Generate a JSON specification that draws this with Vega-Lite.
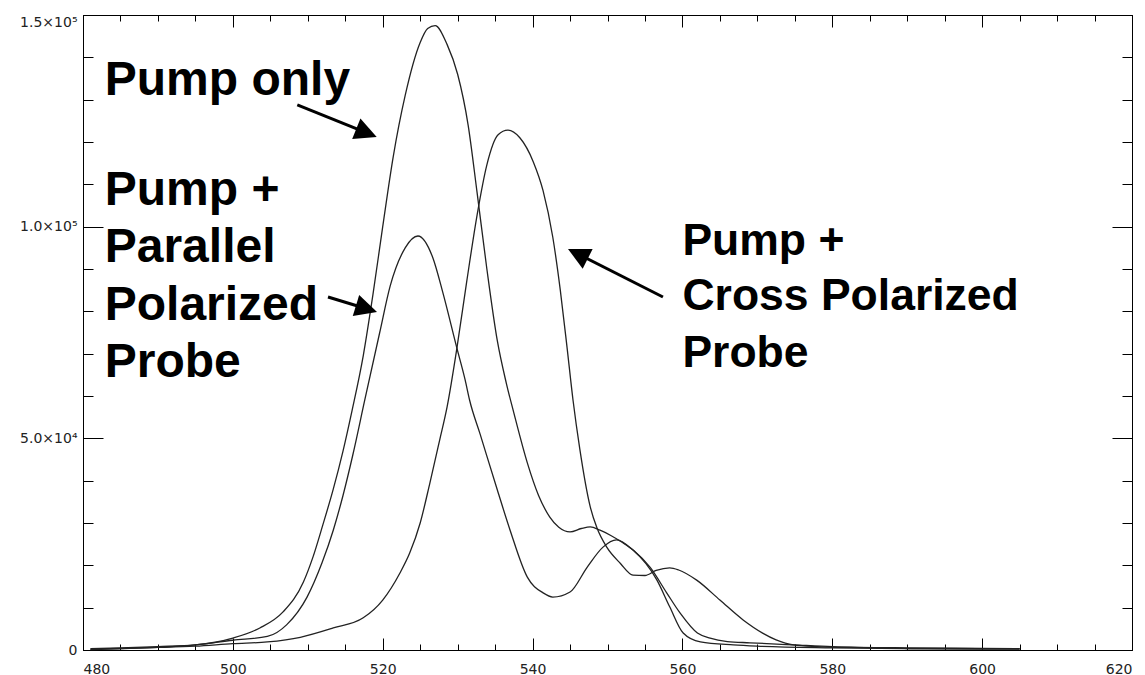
{
  "$schema": "https://vega.github.io/schema/vega-lite/v6.json",
  "autosize": {"type": "none"},
  "padding": {"left": 83, "top": 15, "right": 13, "bottom": 25},
  "width": 1049,
  "height": 635,
  "background": "white",
  "config": {
    "view": {"stroke": "#000", "strokeWidth": 1},
    "axis": {"grid": false, "domainColor": "#000", "domainWidth": 1, "tickColor": "#000", "tickWidth": 1, "labelFont": "DejaVu Sans", "labelFontSize": 14, "labelColor": "#222", "title": null, "labelOverlap": false}
  },
  "datasets": {
    "curves": [
      {"s":"Pump only","x":481,"y":300},{"s":"Pump only","x":485,"y":500},{"s":"Pump only","x":490,"y":800},{"s":"Pump only","x":495,"y":1200},{"s":"Pump only","x":500,"y":2800},{"s":"Pump only","x":503.6,"y":5200},{"s":"Pump only","x":506.7,"y":9000},{"s":"Pump only","x":509.4,"y":16000},{"s":"Pump only","x":510.7,"y":22000},{"s":"Pump only","x":512,"y":29500},{"s":"Pump only","x":513.4,"y":38000},{"s":"Pump only","x":514.7,"y":47000},{"s":"Pump only","x":515.9,"y":56500},{"s":"Pump only","x":517.4,"y":69500},{"s":"Pump only","x":518.7,"y":84000},{"s":"Pump only","x":520,"y":100000},{"s":"Pump only","x":521.4,"y":116500},{"s":"Pump only","x":523,"y":131000},{"s":"Pump only","x":525,"y":143500},{"s":"Pump only","x":526,"y":146800},{"s":"Pump only","x":527,"y":147500},{"s":"Pump only","x":528.6,"y":143000},{"s":"Pump only","x":530,"y":136000},{"s":"Pump only","x":531.4,"y":124000},{"s":"Pump only","x":532.6,"y":108000},{"s":"Pump only","x":533.9,"y":90000},{"s":"Pump only","x":535.3,"y":73000},{"s":"Pump only","x":536.5,"y":63000},{"s":"Pump only","x":537.5,"y":56000},{"s":"Pump only","x":539.3,"y":44200},{"s":"Pump only","x":540.8,"y":36500},{"s":"Pump only","x":542.3,"y":31400},{"s":"Pump only","x":543.5,"y":29000},{"s":"Pump only","x":545,"y":27900},{"s":"Pump only","x":546.5,"y":28700},{"s":"Pump only","x":547.7,"y":29100},{"s":"Pump only","x":549,"y":28300},{"s":"Pump only","x":550.5,"y":27000},{"s":"Pump only","x":551.9,"y":25500},{"s":"Pump only","x":553.5,"y":23500},{"s":"Pump only","x":555.7,"y":19500},{"s":"Pump only","x":557.9,"y":13500},{"s":"Pump only","x":559.7,"y":8700},{"s":"Pump only","x":562,"y":4000},{"s":"Pump only","x":563.7,"y":2800},{"s":"Pump only","x":566,"y":2000},{"s":"Pump only","x":569,"y":1700},{"s":"Pump only","x":575,"y":1200},{"s":"Pump only","x":580,"y":800},{"s":"Pump only","x":590,"y":500},{"s":"Pump only","x":600,"y":400},{"s":"Pump only","x":605,"y":300},
      {"s":"Parallel","x":481,"y":100},{"s":"Parallel","x":485,"y":300},{"s":"Parallel","x":490,"y":600},{"s":"Parallel","x":495,"y":1200},{"s":"Parallel","x":500,"y":2300},{"s":"Parallel","x":504.6,"y":3200},{"s":"Parallel","x":507.2,"y":6000},{"s":"Parallel","x":509.9,"y":12500},{"s":"Parallel","x":511.9,"y":20600},{"s":"Parallel","x":513.4,"y":28300},{"s":"Parallel","x":514.7,"y":36500},{"s":"Parallel","x":516,"y":46000},{"s":"Parallel","x":517.6,"y":59000},{"s":"Parallel","x":519.6,"y":75000},{"s":"Parallel","x":521,"y":86000},{"s":"Parallel","x":523,"y":95000},{"s":"Parallel","x":524.7,"y":97800},{"s":"Parallel","x":526.7,"y":92600},{"s":"Parallel","x":528,"y":84600},{"s":"Parallel","x":529.9,"y":71300},{"s":"Parallel","x":531,"y":63800},{"s":"Parallel","x":531.6,"y":59000},{"s":"Parallel","x":533,"y":51000},{"s":"Parallel","x":535.3,"y":37800},{"s":"Parallel","x":537,"y":28300},{"s":"Parallel","x":539.3,"y":17200},{"s":"Parallel","x":541.4,"y":13500},{"s":"Parallel","x":542.7,"y":12500},{"s":"Parallel","x":545,"y":13700},{"s":"Parallel","x":547.3,"y":19600},{"s":"Parallel","x":549.4,"y":24300},{"s":"Parallel","x":551.2,"y":26000},{"s":"Parallel","x":553.4,"y":23600},{"s":"Parallel","x":556.6,"y":16500},{"s":"Parallel","x":558.3,"y":10200},{"s":"Parallel","x":560.1,"y":4000},{"s":"Parallel","x":562.4,"y":1900},{"s":"Parallel","x":566.8,"y":1200},{"s":"Parallel","x":570,"y":900},{"s":"Parallel","x":580,"y":500},{"s":"Parallel","x":590,"y":300},{"s":"Parallel","x":600,"y":200},{"s":"Parallel","x":605,"y":200},
      {"s":"Cross","x":481,"y":200},{"s":"Cross","x":485,"y":400},{"s":"Cross","x":490,"y":600},{"s":"Cross","x":495,"y":900},{"s":"Cross","x":500,"y":1500},{"s":"Cross","x":504.6,"y":1900},{"s":"Cross","x":509,"y":3000},{"s":"Cross","x":513.4,"y":5200},{"s":"Cross","x":517.4,"y":7600},{"s":"Cross","x":520,"y":11800},{"s":"Cross","x":522.3,"y":18200},{"s":"Cross","x":523.6,"y":22900},{"s":"Cross","x":525,"y":30000},{"s":"Cross","x":526.3,"y":39500},{"s":"Cross","x":527.6,"y":49600},{"s":"Cross","x":528.6,"y":57500},{"s":"Cross","x":529.9,"y":71300},{"s":"Cross","x":531.2,"y":86900},{"s":"Cross","x":532.6,"y":102800},{"s":"Cross","x":533.9,"y":114600},{"s":"Cross","x":535.4,"y":121700},{"s":"Cross","x":536.7,"y":122800},{"s":"Cross","x":538.3,"y":121000},{"s":"Cross","x":540.1,"y":115300},{"s":"Cross","x":541.4,"y":108500},{"s":"Cross","x":542.7,"y":97500},{"s":"Cross","x":543.7,"y":85000},{"s":"Cross","x":544.6,"y":71500},{"s":"Cross","x":545.4,"y":59000},{"s":"Cross","x":546.3,"y":47500},{"s":"Cross","x":547.7,"y":33800},{"s":"Cross","x":548.6,"y":28800},{"s":"Cross","x":549.9,"y":24300},{"s":"Cross","x":551.7,"y":20500},{"s":"Cross","x":553.4,"y":17700},{"s":"Cross","x":555,"y":17600},{"s":"Cross","x":556.5,"y":18800},{"s":"Cross","x":558.3,"y":19400},{"s":"Cross","x":559.5,"y":18900},{"s":"Cross","x":561.9,"y":16500},{"s":"Cross","x":565,"y":11800},{"s":"Cross","x":568.1,"y":7100},{"s":"Cross","x":570.7,"y":4000},{"s":"Cross","x":572.5,"y":2400},{"s":"Cross","x":574.8,"y":1200},{"s":"Cross","x":578,"y":800},{"s":"Cross","x":582.4,"y":600},{"s":"Cross","x":590,"y":400},{"s":"Cross","x":600,"y":300},{"s":"Cross","x":605,"y":300}
    ],
    "arrows": [
      {"x0":508.6,"y0":128750,"xe":517.96,"ye":122080,"x1":519.2,"y1":121200,"a":21.9},
      {"x0":512.7,"y0":83390,"xe":517.96,"ye":80540,"x1":519.24,"y1":79850,"a":17},
      {"x0":557.4,"y0":83390,"xe":545.92,"ye":93670,"x1":544.73,"y1":94730,"a":206.8}
    ],
    "labels": [
      {"side":"left","t":"Pump only","x":482.9,"y":131100},
      {"side":"left","t":"Pump +","x":482.9,"y":105100},
      {"side":"left","t":"Parallel","x":482.9,"y":91660},
      {"side":"left","t":"Polarized","x":482.9,"y":77960},
      {"side":"left","t":"Probe","x":482.9,"y":64500},
      {"side":"right","t":"Pump +","x":560.0,"y":93310},
      {"side":"right","t":"Cross Polarized","x":560.0,"y":80320},
      {"side":"right","t":"Probe","x":560.0,"y":66860}
    ]
  },
  "layer": [
    {
      "data": {"name": "curves"},
      "mark": {"type": "line", "stroke": "#222", "strokeWidth": 1.3, "interpolate": "monotone"},
      "encoding": {
        "x": {"field": "x", "type": "quantitative", "scale": {"domain": [480, 620], "nice": false, "zero": false},
          "axis": {"orient": "bottom", "values": [480,485,490,495,500,505,510,515,520,525,530,535,540,545,550,555,560,565,570,575,580,585,590,595,600,605,610,615,620],
            "labelExpr": "datum.value % 20 === 0 ? datum.label : ''",
            "tickSize": {"condition": {"test": "datum.value % 20 === 0", "value": -12}, "value": -6},
            "labelPadding": 24, "title": null}},
        "y": {"field": "y", "type": "quantitative", "scale": {"domain": [0, 150000], "nice": false, "zero": false},
          "axis": {"orient": "left", "values": [0,10000,20000,30000,40000,50000,60000,70000,80000,90000,100000,110000,120000,130000,140000,150000],
            "labelExpr": "datum.value === 0 ? '0' : datum.value === 50000 ? '5.0×10⁴' : datum.value === 100000 ? '1.0×10⁵' : datum.value === 150000 ? '1.5×10⁵' : ''",
            "tickSize": {"condition": {"test": "datum.value % 50000 === 0", "value": -20}, "value": -10},
            "labelBaseline": {"condition": {"test": "datum.value === 150000", "value": "top"}, "value": "middle"},
            "labelPadding": 26, "title": null}},
        "detail": {"field": "s", "type": "nominal"}
      }
    },
    {
      "data": {"name": "arrows"},
      "mark": {"type": "rule", "stroke": "#000", "strokeWidth": 3},
      "encoding": {
        "x": {"field": "x0", "type": "quantitative", "scale": {"domain": [480, 620], "nice": false, "zero": false},
          "axis": {"orient": "top", "values": [480,485,490,495,500,505,510,515,520,525,530,535,540,545,550,555,560,565,570,575,580,585,590,595,600,605,610,615,620],
            "labels": false,
            "tickSize": {"condition": {"test": "datum.value % 20 === 0", "value": -12}, "value": -6}, "title": null}},
        "y": {"field": "y0", "type": "quantitative", "scale": {"domain": [0, 150000], "nice": false, "zero": false},
          "axis": {"orient": "right", "values": [0,10000,20000,30000,40000,50000,60000,70000,80000,90000,100000,110000,120000,130000,140000,150000],
            "labels": false,
            "tickSize": {"condition": {"test": "datum.value % 50000 === 0", "value": -20}, "value": -10}, "title": null}},
        "x2": {"field": "xe"},
        "y2": {"field": "ye"}
      }
    },
    {
      "data": {"name": "arrows"},
      "mark": {"type": "point", "filled": true, "shape": "M-2,-1L0,0L-2,1Z", "size": 484, "color": "#000", "opacity": 1, "strokeWidth": 0},
      "encoding": {
        "x": {"field": "x1", "type": "quantitative", "axis": null},
        "y": {"field": "y1", "type": "quantitative", "axis": null},
        "angle": {"field": "a", "type": "quantitative", "scale": null}
      }
    },
    {
      "data": {"name": "labels"},
      "transform": [{"filter": "datum.side === 'left'"}],
      "mark": {"type": "text", "font": "Liberation Sans", "fontWeight": "bold", "fontSize": 48, "align": "left", "baseline": "alphabetic", "color": "#000"},
      "encoding": {
        "x": {"field": "x", "type": "quantitative", "axis": null},
        "y": {"field": "y", "type": "quantitative", "axis": null},
        "text": {"field": "t", "type": "nominal"}
      }
    },
    {
      "data": {"name": "labels"},
      "transform": [{"filter": "datum.side === 'right'"}],
      "mark": {"type": "text", "font": "Liberation Sans", "fontWeight": "bold", "fontSize": 44.5, "align": "left", "baseline": "alphabetic", "color": "#000"},
      "encoding": {
        "x": {"field": "x", "type": "quantitative", "axis": null},
        "y": {"field": "y", "type": "quantitative", "axis": null},
        "text": {"field": "t", "type": "nominal"}
      }
    }
  ],
  "resolve": {"axis": {"x": "independent", "y": "independent"}}
}
